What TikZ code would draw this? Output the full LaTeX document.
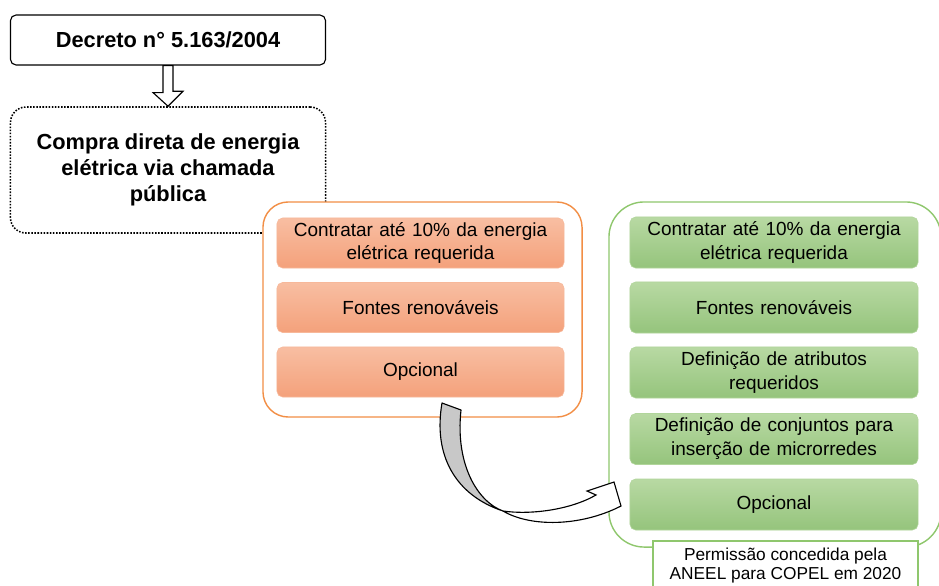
\documentclass[tikz,border=0pt]{standalone}
\usepackage{fontspec}
\setmainfont{Liberation Sans}
\usetikzlibrary{calc}

\definecolor{orangeline}{HTML}{F28E45}
\definecolor{orangetop}{HTML}{F8BEA2}
\definecolor{orangebot}{HTML}{F4A17B}
\definecolor{greenline}{HTML}{8FC76D}
\definecolor{greentop}{HTML}{B8D9A3}
\definecolor{greenbot}{HTML}{95C47C}
\definecolor{arrowgray}{HTML}{C8C8C8}

\begin{document}
\begin{tikzpicture}[x=0.025cm, y=-0.025cm,
  titlebox/.style={draw=black, line width=0.8pt, rounded corners=4pt, fill=white,
    align=center, font=\fontsize{15.5}{18.5}\selectfont\bfseries,
    minimum width=7.875cm, inner sep=0pt},
  outerorange/.style={draw=orangeline, line width=1pt, fill=white, rounded corners=18pt,
    minimum width=7.975cm, minimum height=5.375cm},
  outergreen/.style={draw=greenline, line width=1pt, fill=white, rounded corners=25pt,
    minimum width=8.3cm, minimum height=8.625cm},
  itemorange/.style={draw=orangetop!80!orangebot, top color=orangetop, bottom color=orangebot,
    rounded corners=4pt, text width=7.175cm, minimum height=1.25cm, inner sep=0pt,
    align=center, font=\fontsize{13.5}{17}\selectfont},
  itemgreen/.style={itemorange, draw=greentop!80!greenbot, top color=greentop,
    bottom color=greenbot, text width=7.2cm, minimum height=1.275cm},
  notebox/.style={draw=greenline, line width=0.8pt, fill=white, minimum width=6.625cm,
    minimum height=1.25cm, inner sep=0pt, align=center,
    font=\fontsize{12.3}{13.5}\selectfont}]
\useasboundingbox (0,0) rectangle (939,585);

% Decree and purchase
\node[titlebox, minimum height=1.25cm] (decreto) at (168,40) {Decreto n° 5.163/2004};
\node[titlebox, minimum height=3.15cm, rounded corners=11pt, line width=1.1pt,
  dash pattern=on 1.1pt off 1.1pt] (compra) at (168,170)
  {Compra direta de energia\\elétrica via chamada\\pública};

% Hollow arrow
\draw[line width=0.8pt, fill=white] ($(decreto.south)+(-5,0)$) -- ++(0,27) -- ++(-10,0)
  -- (compra.north) -- ++(15,-15) -- ++(-10,0) -- ($(decreto.south)+(5,0)$) -- cycle;

% Call: orange group
\node[outerorange] (orangebox) at (422.5,309.5) {};
\node[itemorange] (oa) at (420.5,243) {Contratar até 10\% da energia\\elétrica requerida};
\node[itemorange] (ob) at (420.5,307.5) {Fontes renováveis};
\node[itemorange] (oc) at (420.5,372) {Opcional};

% COPEL: green group
\node[outergreen] (greenbox) at (775,374.5) {};
\node[itemgreen] (ga) at (774,242.5) {Contratar até 10\% da energia\\elétrica requerida};
\node[itemgreen] (gb) at (774,307.5) {Fontes renováveis};
\node[itemgreen] (gc) at (774,372.5) {Definição de atributos\\requeridos};
\node[itemgreen] (gd) at (774,439) {Definição de conjuntos para\\inserção de microrredes};
\node[itemgreen] (ge) at (774,504.5) {Opcional};
\node[notebox] (nota) at (785.5,566) {Permissão concedida pela\\ANEEL para COPEL em 2020};

% Curved arrow
\coordinate (cross) at (503,511);
\draw[line width=0.8pt, fill=arrowgray, line join=round] (442,403)
  .. controls (433,455) and (455,495) .. (cross)
  .. controls (478,502) and (455,465) .. (461,410) -- cycle;
\draw[line width=0.8pt, fill=white, line join=miter] (cross)
  .. controls (530,527) and (580,527) .. (621,506)
  -- (614,482) -- (587,491) -- (596,495)
  .. controls (570,510) and (530,515) .. (cross);
\end{tikzpicture}
\end{document}
